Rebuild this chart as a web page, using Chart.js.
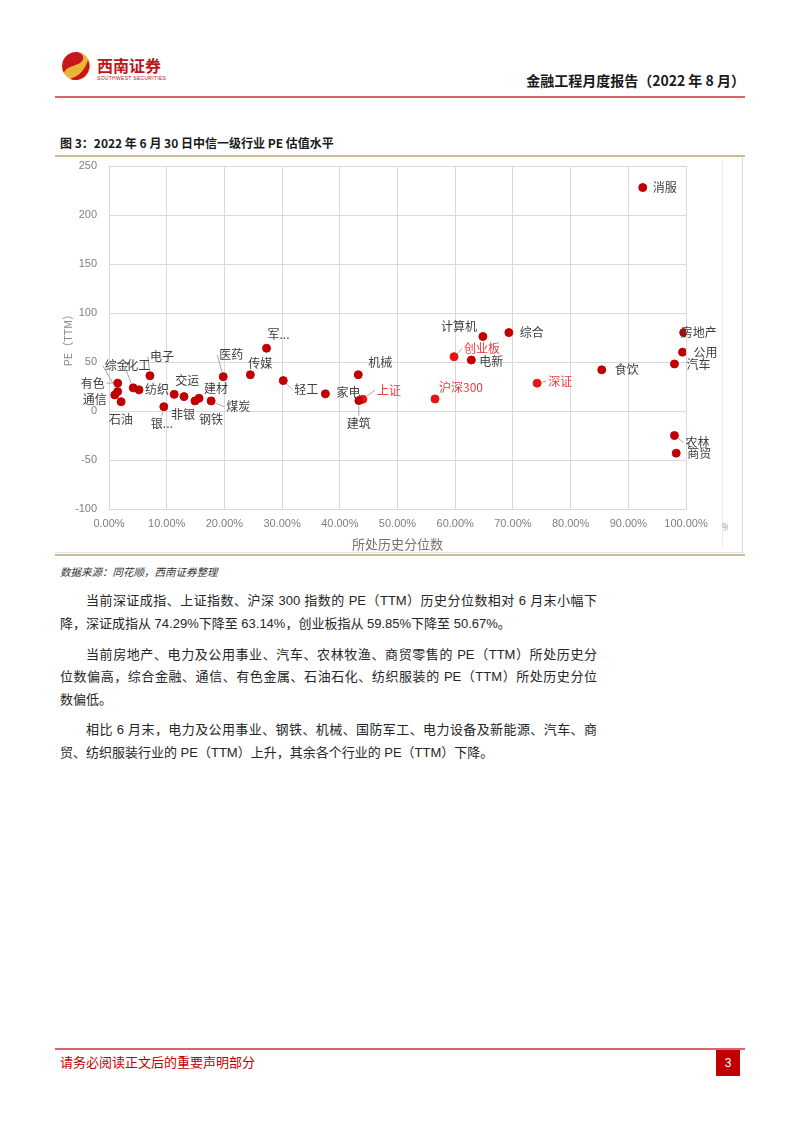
<!DOCTYPE html>
<html>
<head>
<meta charset="utf-8">
<script src="https://cdn.jsdelivr.net/npm/chart.js@4.4.1/dist/chart.umd.min.js"></script>
<style>
  html, body { margin: 0; padding: 0; background: #fff; }
  #page { position: relative; width: 802px; height: 1133px; overflow: hidden;
    font-family: "Liberation Sans", "Noto Sans CJK SC", sans-serif; color: #222; }
  .abs { position: absolute; }
  .line { position: absolute; left: 60px; width: 537px; font-size: 13px; line-height: 20px;
    text-align: justify; text-align-last: justify; color: #262626; }
  .line.last { text-align-last: left; }
  .line.ind { left: 86px; width: 511px; }
</style>
</head>
<body>
<div id="page">
  <!-- header -->
  <svg class="abs" style="left:61px;top:50px" width="30" height="32" viewBox="0 0 30 32">
    <circle cx="15" cy="16" r="14" fill="#EDB43A"/>
    <path d="M15 2 A14 14 0 0 0 3 23 C 6 14, 20 17, 22 9 C 23 5, 19 2, 15 2 Z" fill="#C8161D"/>
    <path d="M27 10 A14 14 0 0 1 9 29 C 14 27, 22 25, 27 10 Z" fill="#C8161D"/>
  </svg>
  <div class="abs" style="left:97px;top:56px;font-size:16px;font-weight:bold;color:#C0141B;letter-spacing:0px;font-family:'Noto Sans CJK SC';line-height:18px">西南证券</div>
  <div class="abs" style="left:97px;top:75px;font-size:5px;color:#C0141B;line-height:6px;letter-spacing:0.3px">SOUTHWEST SECURITIES</div>
  <div class="abs" style="right:57px;top:71px;font-size:14px;font-weight:bold;line-height:18px;font-family:'Noto Sans CJK SC';color:#1a1a1a">金融工程月度报告（2022 年 8 月）</div>
  <div class="abs" style="left:55px;top:96px;width:690px;height:2px;background:#D9646A"></div>

  <!-- figure caption -->
  <div class="abs" style="left:60px;top:135px;font-size:12px;font-weight:bold;line-height:16px;font-family:'Noto Sans CJK SC';color:#1a1a1a">图 3：2022 年 6 月 30 日中信一级行业 PE 估值水平</div>
  <div class="abs" style="left:55px;top:155px;width:690px;height:2px;background:#CDBB93"></div>

  <!-- chart frame -->
  <div class="abs" style="left:55px;top:157px;width:687px;height:395px;border-right:1px solid #d9d9d9;border-bottom:1px solid #e3e3e3"></div>
  <div class="abs" style="left:722px;top:160px;width:1px;height:388px;background:#ececec"></div>
  <div class="abs" style="left:722px;top:522px;font-size:10px;color:#a0a0a0;width:6px;overflow:hidden">%</div>
  <div class="abs" style="left:55px;top:157px;width:688px;height:395px">
    <canvas id="myChart"></canvas>
  </div>
  <div class="abs" style="left:55px;top:554px;width:690px;height:2px;background:#CDBB93"></div>

  <div class="abs" style="left:60px;top:565px;font-size:10.5px;font-style:italic;line-height:14px;color:#333;font-family:'Noto Sans CJK SC'">数据来源：同花顺，西南证券整理</div>

  <!-- body text -->
  <div class="line ind" style="top:591px">当前深证成指、上证指数、沪深 300 指数的 PE（TTM）历史分位数相对 6 月末小幅下</div>
  <div class="line last" style="top:614px">降，深证成指从 74.29%下降至 63.14%，创业板指从 59.85%下降至 50.67%。</div>
  <div class="line ind" style="top:645px">当前房地产、电力及公用事业、汽车、农林牧渔、商贸零售的 PE（TTM）所处历史分</div>
  <div class="line" style="top:667px">位数偏高，综合金融、通信、有色金属、石油石化、纺织服装的 PE（TTM）所处历史分位</div>
  <div class="line last" style="top:690px">数偏低。</div>
  <div class="line ind" style="top:720px">相比 6 月末，电力及公用事业、钢铁、机械、国防军工、电力设备及新能源、汽车、商</div>
  <div class="line last" style="top:743px">贸、纺织服装行业的 PE（TTM）上升，其余各个行业的 PE（TTM）下降。</div>

  <!-- footer -->
  <div class="abs" style="left:55px;top:1048px;width:690px;height:2px;background:#D9646A"></div>
  <div class="abs" style="left:60px;top:1053px;font-size:13px;line-height:18px;color:#C00000;font-family:'Noto Sans CJK SC'">请务必阅读正文后的重要声明部分</div>
  <div class="abs" style="left:716px;top:1050px;width:24px;height:26px;background:#C00000;color:#fff;font-size:12px;line-height:26px;text-align:center">3</div>
</div>

<script>
// Industry data (CITIC level-1), x = historical percentile (%), y = PE (TTM)
const industryNames = ['消服', '房地产', '公用', '汽车', '食饮', '农林', '商贸', '计算机', '综合', '电新',
  '机械', '轻工', '家电', '建筑', '军...', '传媒', '医药', '电子', '纺织', '综金',
  '化工', '有色', '通信', '石油', '银...', '交运', '非银', '钢铁', '建材', '煤炭'];
const industryPct = [92.5, 99.6, 99.4, 98.0, 85.4, 98.0, 98.3, 64.8, 69.3, 62.8,
  43.2, 30.2, 37.5, 43.3, 27.3, 24.5, 19.8, 7.1, 5.2, 1.5,
  4.2, 1.5, 1.0, 2.1, 9.5, 11.3, 13.0, 14.9, 15.6, 17.7];
const industryPE = [228, 80, 60, 48, 42, -25, -43, 76, 80, 52,
  37, 31, 17.5, 10.6, 64, 37, 35, 36, 21.6, 19.8,
  23.6, 28.4, 16.4, 9.5, 4.4, 17, 14.7, 10.3, 13, 10.3];

// Broad indices
const indexNames = ['创业板', '深证', '上证', '沪深300'];
const indexPct = [59.8, 74.2, 44.0, 56.5];
const indexPE = [55.4, 28.4, 12.0, 12.3];

// Axis ticks
const xTickMin = 0, xTickMax = 100, xTickStep = 10;
const yTickMin = -100, yTickMax = 250, yTickStep = 50;

// Label placement: [dx, dy, align, leader line]
const labelPos = {
  '消服': [10, 0, 'left'], '房地产': [-3, 0, 'left'], '公用': [11, 0, 'left'], '汽车': [12, 0, 'left'],
  '食饮': [13, 0, 'left'], '农林': [11, 7, 'left', true], '商贸': [11, 0, 'left'],
  '计算机': [-6, -10, 'right'], '综合': [11, 0, 'left'], '电新': [8, 1, 'left'],
  '机械': [10, -12, 'left'], '轻工': [11, 9, 'left', true], '家电': [11, -1, 'left'],
  '建筑': [0, 23, 'center', true], '军...': [1, -14, 'left'], '传媒': [-2, -11, 'left'],
  '医药': [-4, -22, 'left', true], '电子': [0, -19, 'left', true], '纺织': [6, 0, 'left'],
  '综金': [-13, -26, 'left', true], '化工': [-7, -22, 'left', true], '有色': [-13, 0, 'right', true],
  '通信': [-8, 5, 'right'], '石油': [0, 18, 'center'], '银...': [-2, 17, 'center', true],
  '交运': [1, -14, 'left'], '非银': [-1, 18, 'center'], '钢铁': [16, 19, 'center'],
  '建材': [5, -10, 'left'], '煤炭': [15, 6, 'left', true],
  '创业板': [10, -8, 'left', true], '深证': [11, -2, 'left', true], '上证': [14, -9, 'left', true],
  '沪深300': [4, -12, 'left']
};

const labelPlugin = {
  id: 'pointLabels',
  afterDatasetsDraw(chart) {
    const c = chart.ctx;
    c.save();
    c.font = '12px "Noto Sans CJK SC"';
    c.textBaseline = 'middle';
    chart.data.datasets.forEach((ds, di) => {
      const meta = chart.getDatasetMeta(di);
      meta.data.forEach((pt, i) => {
        const name = ds.names[i];
        const p = labelPos[name] || [8, 0, 'left'];
        const lx = pt.x + p[0], ly = pt.y + p[1];
        if (p[3]) {
          c.strokeStyle = '#a6a6a6';
          c.lineWidth = 1;
          let ax = lx, ay = ly;
          if (p[2] === 'left') ax = lx - 2;
          else if (p[2] === 'right') ax = lx + 2;
          else ay = ly + (p[1] > 0 ? -8 : 8);
          const dx = ax - pt.x, dy = ay - pt.y;
          const d = Math.sqrt(dx * dx + dy * dy) || 1;
          c.beginPath();
          c.moveTo(pt.x + dx / d * 5, pt.y + dy / d * 5);
          c.lineTo(ax, ay);
          c.stroke();
        }
        c.fillStyle = ds.labelColor;
        c.textAlign = p[2];
        c.fillText(name, lx, ly);
      });
    });
    c.restore();
  }
};

const ctx = document.getElementById('myChart').getContext('2d');

const data = {
  datasets: [{
    label: '行业',
    names: industryNames,
    labelColor: '#404040',
    data: industryPct.map((v, i) => ({ x: v, y: industryPE[i] })),
    backgroundColor: '#C00000',
    borderColor: '#C00000',
    pointRadius: 4
  }, {
    label: '指数',
    names: indexNames,
    labelColor: '#F23A3A',
    data: indexPct.map((v, i) => ({ x: v, y: indexPE[i] })),
    backgroundColor: '#EE1111',
    borderColor: '#EE1111',
    pointRadius: 4
  }]
};

const config = {
  type: 'scatter',
  data: data,
  plugins: [labelPlugin],
  options: {
    responsive: true,
    maintainAspectRatio: false,
    animation: false,
    layout: { padding: { top: 9, right: 57, left: 0, bottom: 0 } },
    plugins: { legend: { display: false }, tooltip: { enabled: false } },
    scales: {
      x: {
        type: 'linear',
        min: xTickMin,
        max: xTickMax,
        ticks: {
          stepSize: xTickStep,
          padding: 8,
          color: '#7f7f7f',
          font: { family: 'Liberation Sans', size: 11 },
          callback: v => v.toFixed(2) + '%'
        },
        grid: { color: '#d9d9d9', drawTicks: false },
        border: { color: '#d9d9d9' },
        title: { display: true, text: '所处历史分位数', color: '#7a6f66',
          font: { family: 'Noto Sans CJK SC', size: 13 }, padding: { top: -2, bottom: 0 } },
        afterFit: s => { s.height = 43; s.paddingLeft = 0; s.paddingRight = 0; }
      },
      y: {
        min: yTickMin,
        max: yTickMax,
        ticks: {
          stepSize: yTickStep,
          padding: 12,
          color: '#7f7f7f',
          font: { family: 'Liberation Sans', size: 11 }
        },
        grid: { color: '#d9d9d9', drawTicks: false },
        border: { color: '#d9d9d9' },
        title: { display: true, text: 'PE（TTM）', color: '#8c8c8c',
          font: { family: 'Noto Sans CJK SC', size: 11 }, padding: { top: 6, bottom: 0 } },
        afterFit: s => { s.width = 54; s.paddingTop = 0; s.paddingBottom = 0; }
      }
    }
  }
};

new Chart(ctx, config);
</script>
</body>
</html>
